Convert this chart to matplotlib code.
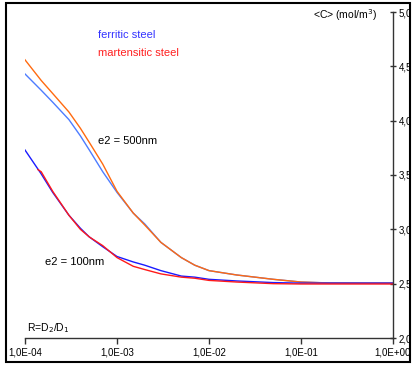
import matplotlib
matplotlib.use("Agg")
import matplotlib.pyplot as plt
from matplotlib.patches import Rectangle
from matplotlib.ticker import FixedLocator, FuncFormatter

plt.rcParams['font.family'] = ['Liberation Sans', 'DejaVu Sans']

# R = D2/D1 sample points
R = [1e-4, 1.5e-4, 2e-4, 3e-4, 4e-4, 5e-4, 7e-4, 1e-3, 1.5e-3, 2e-3, 3e-3,
     5e-3, 7e-3, 1e-2, 2e-2, 5e-2, 1e-1, 2e-1, 5e-1, 1.0]

# e2 = 500nm
ferr_500 = [4.43, 4.28, 4.17, 4.01, 3.86, 3.73, 3.53, 3.34, 3.15, 3.05, 2.88,
            2.74, 2.67, 2.62, 2.58, 2.54, 2.515, 2.507, 2.505, 2.505]
mart_500 = [4.56, 4.37, 4.25, 4.08, 3.93, 3.80, 3.60, 3.35, 3.15, 3.04, 2.88,
            2.74, 2.67, 2.62, 2.58, 2.54, 2.515, 2.506, 2.505, 2.505]

# e2 = 100nm
ferr_100 = [3.73, 3.51, 3.34, 3.13, 3.01, 2.93, 2.84, 2.75, 2.70, 2.67, 2.62,
            2.57, 2.56, 2.54, 2.525, 2.51, 2.505, 2.505, 2.505, 2.505]
R_mart_100 = [1.38e-4] + R[1:]
mart_100 = [3.55, 3.53, 3.35, 3.13, 3.00, 2.93, 2.85, 2.74, 2.66, 2.63, 2.59,
            2.56, 2.55, 2.53, 2.515, 2.50, 2.497, 2.497, 2.497, 2.497]

fig = plt.figure(figsize=(4.14, 3.65), dpi=100)
ax = fig.add_axes([25 / 414, 27 / 365, 368 / 414, 326 / 365])

ax.plot(R, ferr_500, color='#4d7cff', lw=1.0)
ax.plot(R, mart_500, color='#ff6a10', lw=1.0)
ax.plot(R, ferr_100, color='#1a1aff', lw=1.0)
ax.plot(R_mart_100, mart_100, color='#ff1a1a', lw=1.0)

ax.set_xscale('log')
ax.set_xlim(1e-4, 1.0)
ax.set_ylim(2.0, 5.0)
ax.xaxis.set_major_locator(FixedLocator([1e-4, 1e-3, 1e-2, 1e-1, 1.0]))
ax.xaxis.set_minor_locator(FixedLocator([]))
ax.xaxis.set_major_formatter(FuncFormatter(lambda v, p: ('%.1E' % v).replace('.', ',')))
ax.yaxis.set_major_locator(FixedLocator([2.0, 2.5, 3.0, 3.5, 4.0, 4.5, 5.0]))
ax.yaxis.set_major_formatter(FuncFormatter(lambda v, p: ('%.1f' % v).replace('.', ',')))

ax.yaxis.tick_right()
for s in ['left', 'top']:
    ax.spines[s].set_visible(False)
for s in ['right', 'bottom']:
    ax.spines[s].set_color('#333333')
    ax.spines[s].set_linewidth(1.0)
ax.tick_params(axis='x', direction='out', length=4, width=1, labelsize=7, pad=3, color='#333333')
ax.tick_params(axis='y', direction='inout', length=5, width=1, labelsize=7, pad=1.5, color='#333333')

ax.text(0.957, 0.99, '<C> (mol/m$^3$)', transform=ax.transAxes, ha='right', va='center', fontsize=7.5)
ax.text(0.005, 0.03, 'R=D$_2$/D$_1$', transform=ax.transAxes, ha='left', va='center', fontsize=7.5)
ax.text(0.198, 0.929, 'ferritic steel', transform=ax.transAxes, ha='left', va='center', fontsize=8, color='#3333ff')
ax.text(0.198, 0.874, 'martensitic steel', transform=ax.transAxes, ha='left', va='center', fontsize=8, color='#ff2020')
ax.text(0.198, 0.605, 'e2 = 500nm', transform=ax.transAxes, ha='left', va='center', fontsize=8)
ax.text(0.054, 0.233, 'e2 = 100nm', transform=ax.transAxes, ha='left', va='center', fontsize=8)

# white margin and outer frame
fig.patches.append(Rectangle((411 / 414, 0), 3 / 414, 1, transform=fig.transFigure,
                             facecolor='white', edgecolor='none', zorder=20))
fig.patches.append(Rectangle((6 / 414, 3 / 365), 404 / 414, 359 / 365, transform=fig.transFigure,
                             facecolor='none', edgecolor='black', lw=1.5, zorder=21))

fig.savefig('out.png', dpi=100)
